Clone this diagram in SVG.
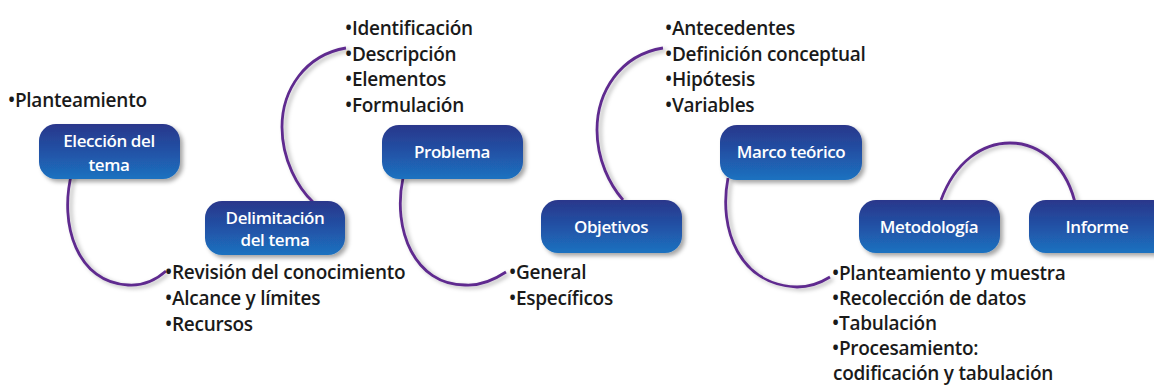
<svg xmlns="http://www.w3.org/2000/svg" width="1154" height="387" viewBox="0 0 1154 387">
<defs>
<linearGradient id="boxGrad" x1="0" y1="0" x2="0" y2="1">
<stop offset="0" stop-color="#2a378b"/>
<stop offset="0.5" stop-color="#2152a6"/>
<stop offset="1" stop-color="#1e72c0"/>
</linearGradient>
<filter id="shadow" x="-20%" y="-20%" width="150%" height="160%">
<feDropShadow dx="3" dy="3" stdDeviation="2" flood-color="#000" flood-opacity="0.35"/>
</filter>
<filter id="lineShadow" x="-20%" y="-20%" width="150%" height="150%">
<feDropShadow dx="3" dy="2" stdDeviation="2" flood-color="#000" flood-opacity="0.3"/>
</filter>
<style>
.box{fill:url(#boxGrad);filter:url(#shadow);}
.lbl{font-family:"Open Sans","Noto Sans",sans-serif;font-size:17px;font-weight:600;fill:#ffffff;text-anchor:middle;letter-spacing:-0.4px;}
.lst{font-family:"Open Sans","Noto Sans",sans-serif;font-size:19px;font-weight:600;fill:#1a1a1a;letter-spacing:-0.25px;}
.arc{fill:none;stroke:#5f2c8f;stroke-width:2.8;filter:url(#lineShadow);}
</style>
</defs>
<g id="connectors">
<path class="arc" d="M72,172 C58,225 78,283 128,285 C143,286 156,280 166,271"/>
<path class="arc" d="M346,48 C305,55 282,90 282,127 C282,160 298,188 313,202"/>
<path class="arc" d="M403,178 C392,230 415,285 465,285 C480,286 494,280 506,272"/>
<path class="arc" d="M663,48 C620,55 597,92 597,130 C597,160 610,185 623,200"/>
<path class="arc" d="M728,178 C718,230 740,285 797,287 C812,287 822,282 830,277"/>
<path class="arc" d="M941,200 C955,162 982,143 1010,143 C1042,143 1068,168 1076,207"/>
</g>
<g id="n-eleccion">
<rect class="box" x="39" y="124" width="141" height="55" rx="17"/>
<text class="lbl" x="109" y="147">Elección del</text>
<text class="lbl" x="109" y="171">tema</text>
<text class="lst" x="8" y="107">•Planteamiento</text>
</g>
<g id="n-delimitacion">
<rect class="box" x="205" y="201" width="140" height="54" rx="17"/>
<text class="lbl" x="275" y="224">Delimitación</text>
<text class="lbl" x="275" y="246">del tema</text>
<text class="lst" x="165" y="279">•Revisión del conocimiento</text>
<text class="lst" x="165" y="305">•Alcance y límites</text>
<text class="lst" x="165" y="331">•Recursos</text>
</g>
<g id="n-problema">
<rect class="box" x="382" y="125" width="141" height="54" rx="17"/>
<text class="lbl" x="452" y="158">Problema</text>
<text class="lst" x="345" y="35">•Identificación</text>
<text class="lst" x="345" y="61">•Descripción</text>
<text class="lst" x="345" y="86">•Elementos</text>
<text class="lst" x="345" y="112">•Formulación</text>
</g>
<g id="n-objetivos">
<rect class="box" x="541" y="200" width="141" height="53" rx="17"/>
<text class="lbl" x="611" y="233">Objetivos</text>
<text class="lst" x="509" y="279">•General</text>
<text class="lst" x="509" y="305">•Específicos</text>
</g>
<g id="n-marco">
<rect class="box" x="720" y="125" width="142" height="55" rx="17"/>
<text class="lbl" x="791" y="158">Marco teórico</text>
<text class="lst" x="665" y="35">•Antecedentes</text>
<text class="lst" x="665" y="61">•Definición conceptual</text>
<text class="lst" x="665" y="86">•Hipótesis</text>
<text class="lst" x="665" y="112">•Variables</text>
</g>
<g id="n-metodologia">
<rect class="box" x="859" y="200" width="141" height="53" rx="17"/>
<text class="lbl" x="929" y="233">Metodología</text>
<text class="lst" x="832" y="280">•Planteamiento y muestra</text>
<text class="lst" x="832" y="305">•Recolección de datos</text>
<text class="lst" x="832" y="330">•Tabulación</text>
<text class="lst" x="832" y="355">•Procesamiento:</text>
<text class="lst" x="833" y="380">codificación y tabulación</text>
</g>
<g id="n-informe">
<rect class="box" x="1029" y="200" width="141" height="53" rx="17"/>
<text class="lbl" x="1097" y="233">Informe</text>
</g>
</svg>
